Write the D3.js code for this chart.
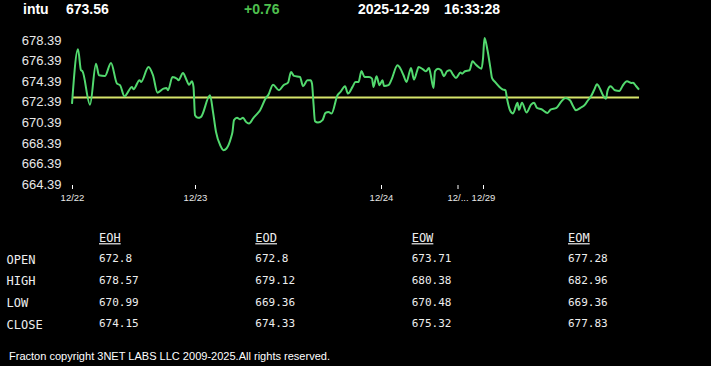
<!DOCTYPE html>
<html><head><meta charset="utf-8">
<script src="https://cdn.jsdelivr.net/npm/d3@7"></script>
<style>
html,body{margin:0;padding:0;background:#000;}
svg{display:block;}
</style></head><body>
<svg id="c" width="711" height="366"></svg>
<script>
// ---- data ----
const symbol = "intu";
const lastPrice = "673.56";
const change = "+0.76";
const dateStr = "2025-12-29";
const timeStr = "16:33:28";
const refLevel = 672.8;

// time step index (intraday sample number) and price
const steps = [0,4,6,7,12,16,18,22,26,30,32,35,40,41,45,46,51,54,57,61,63,64,67,70,71,74,76,78,80,81,
  82,84,86,92,94,96,99,101,103,106,107,108,110,112,114,116,118,121,124,125,129,131,134,138,141,144,146,148,152,154,
  157,159,160,161,162,164,167,169,171,173,177,179,182,184,187,189,191,193,195,198,200,201,203,205,207,208,211,213,217,219,
  221,223,225,226,228,230,231,234,236,238,239,241,242,244,246,248,250,252,254,256,259,260,262,265,267,269,271,273,274,275,
  277,279,280,282,285,287,289,290,292,294,297,298,300,303,306,308,310,313,317,319,323,326,329,332,334,336,339,342,344,346,
  348,350,352,354,356,357,359,362,365,367,370,373,374,376,378];
const prices = [672.18,677.49,675.45,675.35,672.10,676.09,674.96,674.90,676.16,674.15,674.00,672.92,673.83,673.60,674.48,674.31,675.77,674.96,673.27,673.66,673.73,673.50,674.80,674.63,674.48,675.19,674.63,674.05,674.38,673.83,
  671.08,670.82,670.92,673.02,671.40,669.46,668.10,667.68,667.84,668.88,669.46,670.60,670.82,670.69,670.82,670.43,670.26,670.82,671.30,671.47,672.69,673.08,674.05,673.50,674.00,674.24,675.28,674.90,674.80,673.90,
  674.48,674.48,674.15,672.20,670.50,670.36,670.60,671.30,671.40,671.24,673.02,673.34,673.90,673.18,673.83,674.31,674.31,675.38,674.80,674.80,674.63,673.83,674.87,674.00,674.48,673.92,674.00,674.54,675.93,675.60,
  674.96,674.31,675.28,675.67,674.54,675.35,675.77,675.54,675.35,675.67,675.12,673.73,675.35,675.60,675.45,674.87,675.35,675.45,675.02,674.70,675.22,675.12,675.35,675.45,676.32,676.03,675.77,675.60,676.57,678.58,
  677.39,675.60,674.70,674.31,673.83,673.60,673.50,672.69,671.56,671.25,672.30,671.60,672.30,671.35,672.10,672.30,671.79,671.66,671.30,671.62,671.79,672.37,672.76,672.53,671.98,671.56,671.79,672.10,672.53,672.92,
  673.50,674.09,673.66,673.02,672.69,673.44,673.90,673.50,673.44,673.92,674.38,674.21,674.24,673.92,673.56];

const xTickSteps = [0, 82, 206, 257, 274];
const xTickLabels = ["12/22", "12/23", "12/24", "12/...", "12/29"];
const yTicks = [664.39, 666.39, 668.39, 670.39, 672.39, 674.39, 676.39, 678.39];

const colHeaders = ["EOH", "EOD", "EOW", "EOM"];
const rowLabels = ["OPEN", "HIGH", "LOW", "CLOSE"];
const eoh = [672.8, 678.57, 670.99, 674.15];
const eod = [672.8, 679.12, 669.36, 674.33];
const eow = [673.71, 680.38, 670.48, 675.32];
const eom = [677.28, 682.96, 669.36, 677.83];

const footer = "Fracton copyright 3NET LABS LLC 2009-2025.All rights reserved.";

// ---- drawing ----
const svg = d3.select("#c");
svg.append("rect").attr("width",711).attr("height",366).attr("fill","#000");

const sans = "'Liberation Sans', Arial, sans-serif";
const mono = "'DejaVu Sans Mono', 'Liberation Mono', monospace";

// header
const hdr = [
  {t: symbol, x: 23, c: "#fff"},
  {t: lastPrice, x: 66, c: "#fff"},
  {t: change, x: 244, c: "#4fc04f"},
  {t: dateStr, x: 358, c: "#fff"},
  {t: timeStr, x: 444, c: "#fff"}
];
svg.selectAll("text.hdr").data(hdr).join("text").attr("class","hdr")
  .attr("x", d=>d.x).attr("y", 14).attr("fill", d=>d.c)
  .attr("font-family", sans).attr("font-weight","bold").attr("font-size", 14)
  .text(d=>d.t);

const x = d3.scaleLinear().domain([0, 378]).range([72, 639]);
const y = d3.scaleLinear().domain([664.39, 678.39]).range([184, 40]);

// y axis labels
const yAx = svg.append("g").attr("transform","translate(61.5,0)")
  .call(d3.axisLeft(y).tickValues(yTicks).tickFormat(d3.format(".2f")).tickSize(0).tickPadding(0));
yAx.select(".domain").remove();
yAx.selectAll("text").attr("fill","#e8e8e8").attr("font-family", sans).attr("font-size", 13);

// x axis
const xAx = svg.append("g").attr("transform","translate(0,185)")
  .call(d3.axisBottom(x).tickValues(xTickSteps).tickFormat((d,i)=>xTickLabels[i]).tickSize(4).tickPadding(5));
xAx.select(".domain").remove();
xAx.selectAll("line").attr("stroke","#fff");
xAx.selectAll("text").attr("fill","#e8e8e8").attr("font-family", sans).attr("font-size", 9.5);

// reference line
svg.append("line")
  .attr("x1", x(0)).attr("x2", x(378))
  .attr("y1", y(refLevel)).attr("y2", y(refLevel))
  .attr("stroke", "#d6e46a").attr("stroke-width", 2);

// price line
const pts = steps.map((s,i)=>[s, prices[i]]);
svg.append("path").datum(pts)
  .attr("fill","none").attr("stroke","#52d96e").attr("stroke-width",2)
  .attr("stroke-linejoin","round")
  .attr("d", d3.line().x(d=>x(d[0])).y(d=>y(d[1])).curve(d3.curveMonotoneX));

// table
const colX = d3.scalePoint().domain(colHeaders).range([99, 568]);
const rowY = d3.scalePoint().domain(rowLabels).range([259.5, 324.5]);
const cols = [eoh, eod, eow, eom];

svg.selectAll("text.ch").data(colHeaders).join("text").attr("class","ch")
  .attr("x", d=>colX(d)).attr("y", 238).attr("dy","0.35em")
  .attr("fill","#eee").attr("font-family", mono).attr("font-size", 12)
  .attr("text-decoration","underline")
  .text(d=>d);

svg.selectAll("text.rl").data(rowLabels).join("text").attr("class","rl")
  .attr("x", 6.5).attr("y", d=>rowY(d)).attr("dy","0.35em")
  .attr("fill","#eee").attr("font-family", mono).attr("font-size", 12)
  .text(d=>d);

cols.forEach((vals, ci) => {
  svg.selectAll("text.v"+ci).data(vals).join("text").attr("class","v"+ci)
    .attr("x", colX(colHeaders[ci])).attr("y", (d,i)=>rowY(rowLabels[i]) - 1).attr("dy","0.35em")
    .attr("fill","#eee").attr("font-family", mono).attr("font-size", 11)
    .text(d=>String(d));
});

// footer
svg.append("text").attr("x", 9).attr("y", 359.5)
  .attr("fill","#fff").attr("font-family", sans).attr("font-size", 11)
  .attr("textLength", 321).attr("lengthAdjust","spacingAndGlyphs")
  .text(footer);
</script>
</body></html>
